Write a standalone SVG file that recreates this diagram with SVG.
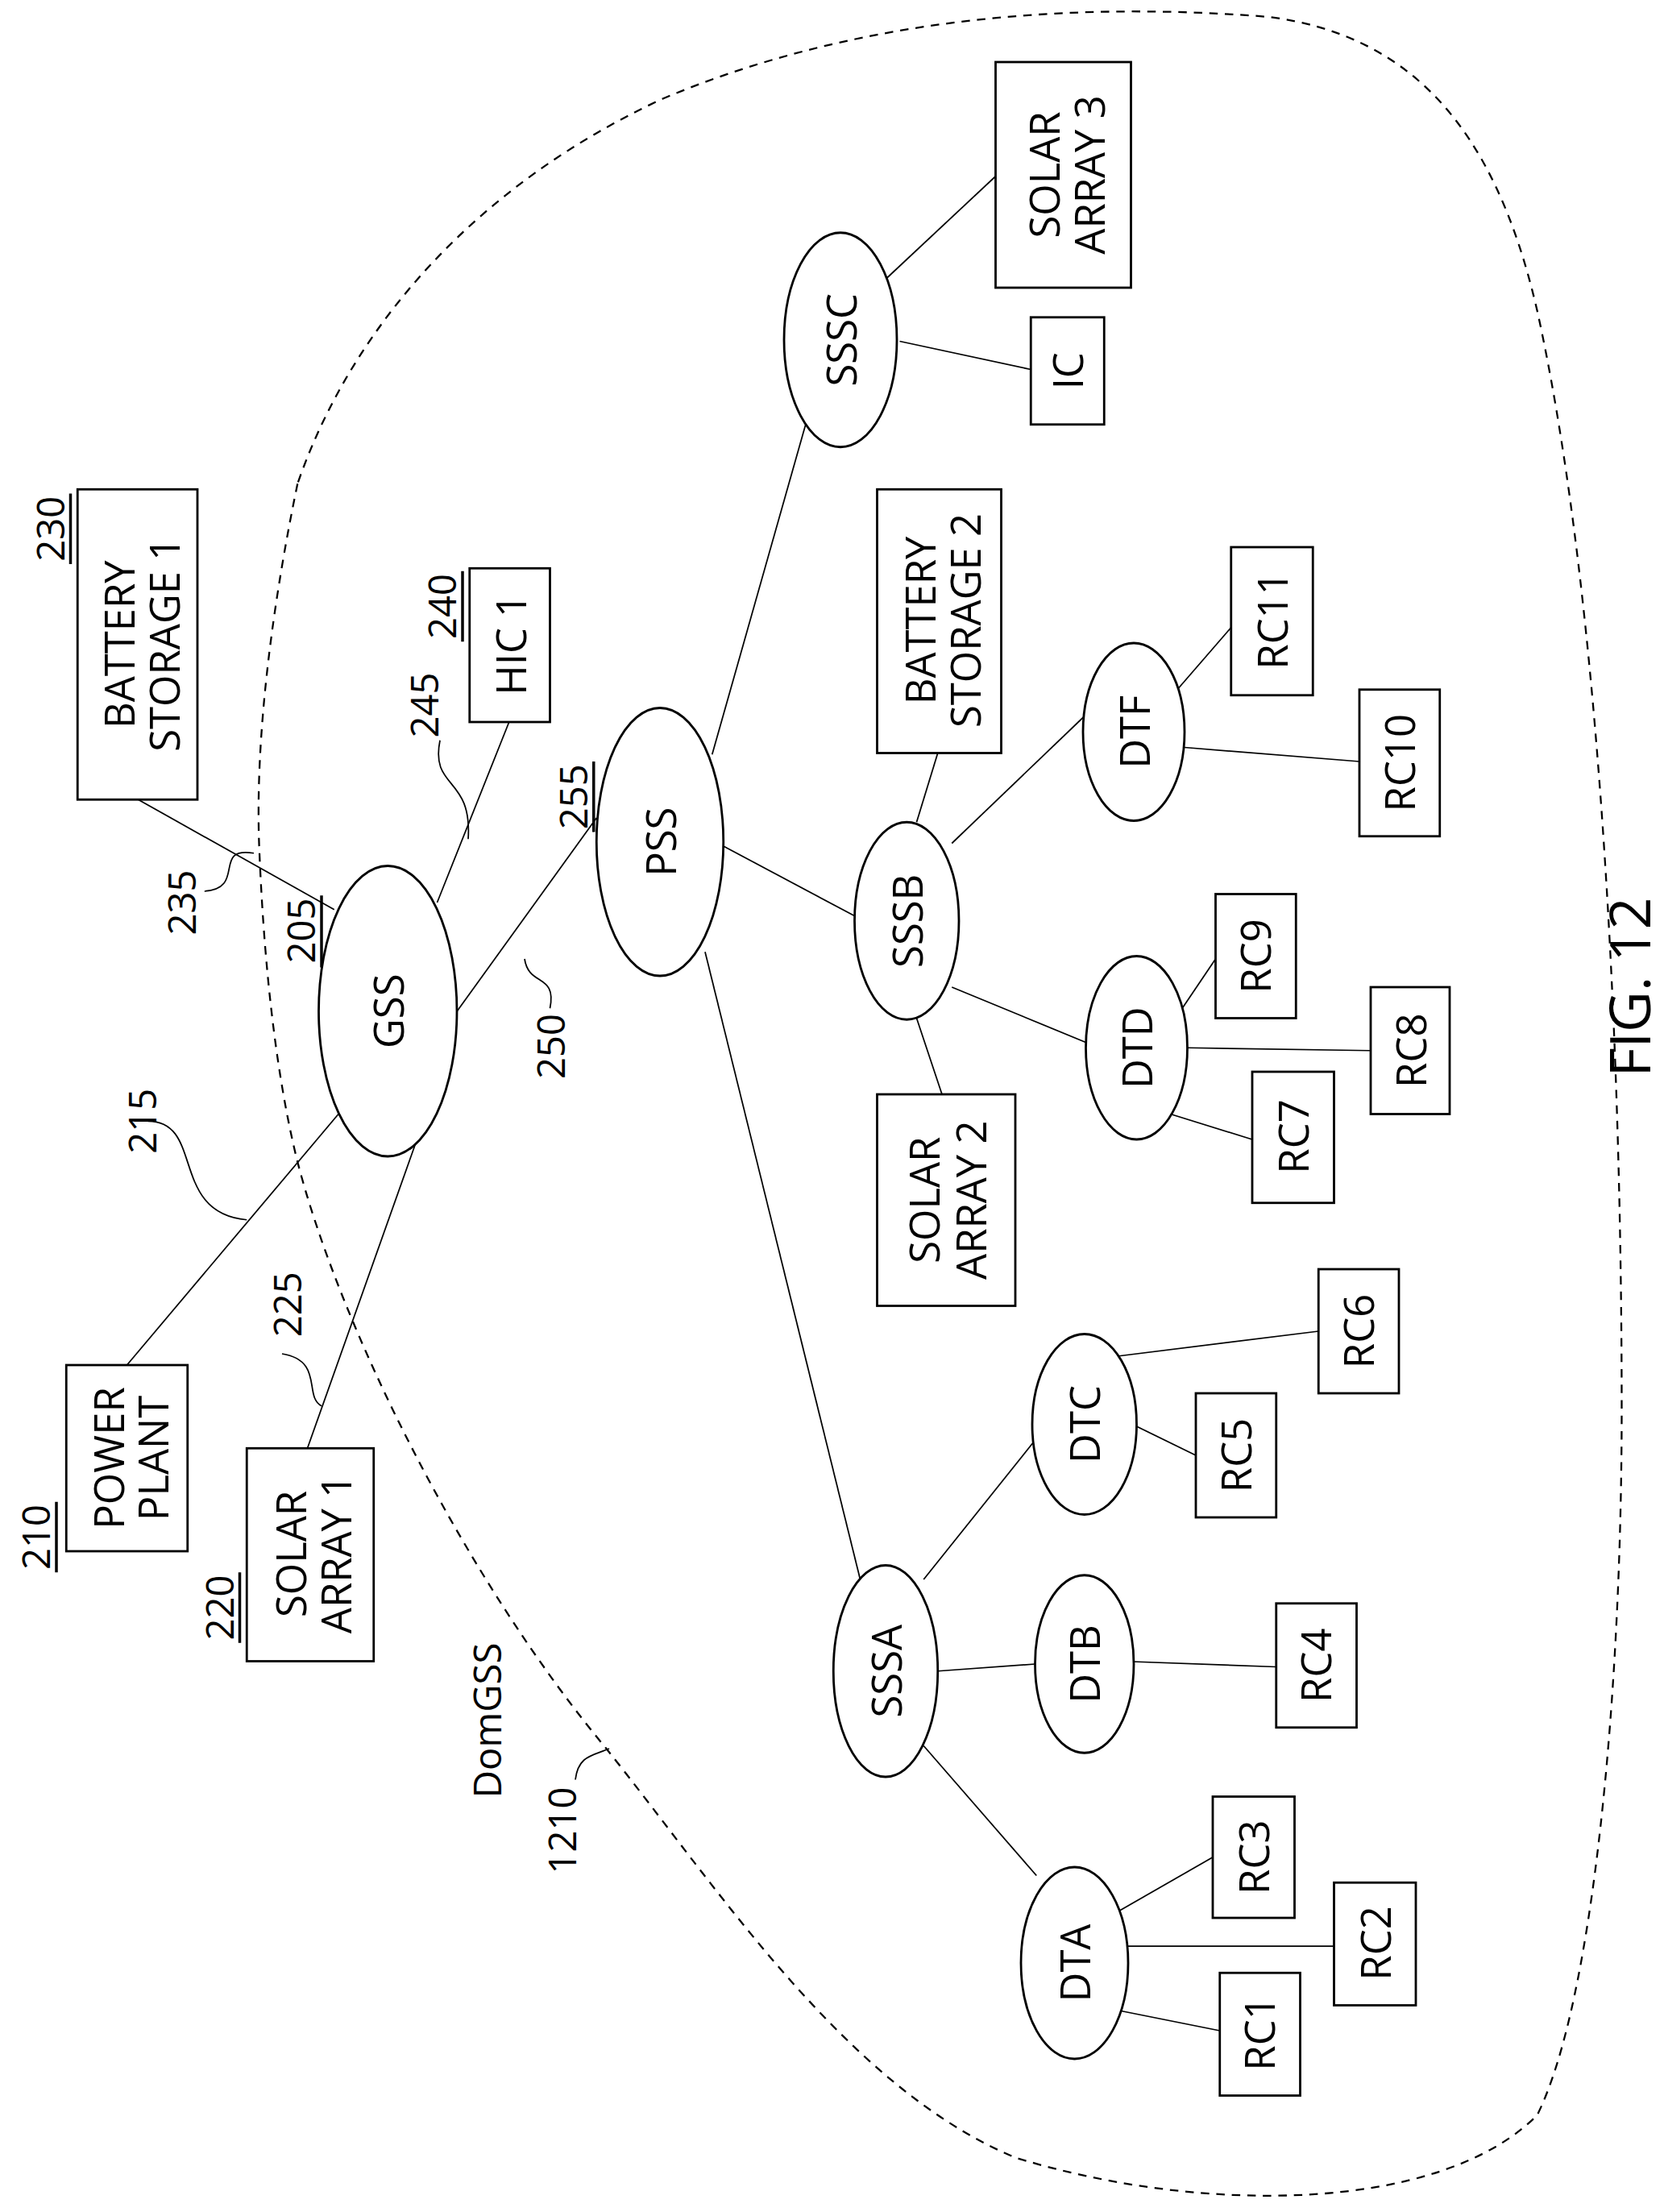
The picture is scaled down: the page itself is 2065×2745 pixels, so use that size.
<svg xmlns="http://www.w3.org/2000/svg" width="2065" height="2745" viewBox="0 0 2065 2745">
<style>
.n{fill:#fff;stroke:#000;stroke-width:1.6}
.c line{stroke:#000;stroke-width:1}
.l{fill:none;stroke:#000;stroke-width:1}
text{font-family:"Open Sans","Liberation Sans",sans-serif;font-size:29px;text-anchor:middle;dominant-baseline:central;fill:#000}
.k{font-size:27px}
.u{stroke:#000;stroke-width:2}
</style>
<rect width="2065" height="2745" fill="#fff"/>
<g transform="scale(1.75)">
<path id="boundary" d="M211,343 C195,420 180,520 184,605 C188,700 198,770 210,820 C240,940 330,1120 430,1240 C510,1340 600,1480 720,1530 C850,1570 1020,1570 1090,1500 C1130,1420 1150,1200 1150,1000 C1150,700 1130,400 1090,220 C1060,90 1000,25 900,12 C750,0 600,15 470,70 C340,130 250,230 211,343 Z" fill="none" stroke="#000" stroke-width="1.3" stroke-dasharray="6,5"/>
<g id="connectors" class="c">
<line x1="98" y1="567" x2="237" y2="645"/>
<line x1="361" y1="512" x2="310" y2="640"/>
<line x1="322" y1="720" x2="423" y2="580"/>
<line x1="240" y1="790" x2="90" y2="968"/>
<line x1="295" y1="810" x2="218" y2="1027"/>
<line x1="505" y1="535" x2="573" y2="295"/>
<line x1="513" y1="600" x2="607" y2="650"/>
<line x1="500" y1="675" x2="610" y2="1120"/>
<line x1="628" y1="198" x2="706" y2="125"/>
<line x1="638" y1="242" x2="731" y2="262"/>
<line x1="650" y1="583" x2="665" y2="534"/>
<line x1="675" y1="598" x2="772" y2="505"/>
<line x1="675" y1="700" x2="772" y2="740"/>
<line x1="650" y1="722" x2="668" y2="776"/>
<line x1="834" y1="490" x2="873" y2="445"/>
<line x1="840" y1="530" x2="964" y2="540"/>
<line x1="835" y1="720" x2="862" y2="680"/>
<line x1="842" y1="743" x2="972" y2="745"/>
<line x1="830" y1="790" x2="888" y2="808"/>
<line x1="655" y1="1120" x2="735" y2="1020"/>
<line x1="665" y1="1185" x2="734" y2="1180"/>
<line x1="655" y1="1238" x2="735" y2="1330"/>
<line x1="790" y1="962" x2="935" y2="944"/>
<line x1="803" y1="1010" x2="848" y2="1032"/>
<line x1="795" y1="1178" x2="905" y2="1182"/>
<line x1="785" y1="1360" x2="860" y2="1317"/>
<line x1="800" y1="1380" x2="946" y2="1380"/>
<line x1="790" y1="1425" x2="865" y2="1440"/>
</g>
<g id="leaders">
<path class="l" d="M145,632 C175,630 150,600 180,605"/>
<text class="k" transform="translate(128,640) rotate(-90)">235</text>
<path class="l" d="M105,795 C145,795 120,860 175,865"/>
<text class="k" transform="translate(100,795) rotate(-90)">215</text>
<path class="l" d="M200,960 C230,965 215,990 228,997"/>
<text class="k" transform="translate(203,925) rotate(-90)">225</text>
<path class="l" d="M312,525 C305,560 335,550 332,595"/>
<text class="k" transform="translate(300,500) rotate(-90)">245</text>
<path class="l" d="M390,715 C395,690 375,700 372,680"/>
<text class="k" transform="translate(390,742) rotate(-90)">250</text>
<path class="l" d="M408,1262 C410,1245 420,1245 432,1240"/>
<text class="k" transform="translate(398,1298) rotate(-90)">1210</text>
<text class="k" transform="translate(345,1220) rotate(-90)">DomGSS</text>
<text transform="translate(1155,700) rotate(-90)" style="font-size:40px">FIG. 12</text>
</g>
<g id="bs1"><rect class="n" x="55" y="347" width="85" height="220"/><text transform="translate(84,457) rotate(-90)">BATTERY</text><text transform="translate(116,457) rotate(-90)">STORAGE 1</text><text class="k" transform="translate(35,375) rotate(-90)">230</text><line class="u" x1="50" y1="350" x2="50" y2="400"/></g>
<g id="hic1"><rect class="n" x="333" y="403" width="57" height="109"/><text transform="translate(362,457) rotate(-90)">HIC 1</text><text class="k" transform="translate(313,430) rotate(-90)">240</text><line class="u" x1="328" y1="405" x2="328" y2="455"/></g>
<g id="gss"><ellipse class="n" cx="275" cy="717" rx="49" ry="103"/><text transform="translate(275,717) rotate(-90)">GSS</text><text class="k" transform="translate(213,660) rotate(-90)">205</text><line class="u" x1="228" y1="635" x2="228" y2="686"/></g>
<g id="pss"><ellipse class="n" cx="468" cy="597" rx="45" ry="95"/><text transform="translate(468,597) rotate(-90)">PSS</text><text class="k" transform="translate(406,565) rotate(-90)">255</text><line class="u" x1="421" y1="540" x2="421" y2="590"/></g>
<g id="pp"><rect class="n" x="47" y="968" width="86" height="132"/><text transform="translate(77,1034) rotate(-90)">POWER</text><text transform="translate(108,1034) rotate(-90)">PLANT</text><text class="k" transform="translate(25,1090) rotate(-90)">210</text><line class="u" x1="40" y1="1065" x2="40" y2="1115"/></g>
<g id="sa1"><rect class="n" x="175" y="1027" width="90" height="151"/><text transform="translate(206,1102) rotate(-90)">SOLAR</text><text transform="translate(238,1102) rotate(-90)">ARRAY 1</text><text class="k" transform="translate(155,1140) rotate(-90)">220</text><line class="u" x1="170" y1="1115" x2="170" y2="1165"/></g>
<g id="sssc"><ellipse class="n" cx="596" cy="241" rx="40" ry="76"/><text transform="translate(596,241) rotate(-90)">SSSC</text></g>
<g id="sa3"><rect class="n" x="706" y="44" width="96" height="160"/><text transform="translate(740,124) rotate(-90)">SOLAR</text><text transform="translate(772,124) rotate(-90)">ARRAY 3</text></g>
<g id="ic"><rect class="n" x="731" y="225" width="52" height="76"/><text transform="translate(757,263) rotate(-90)">IC</text></g>
<g id="bs2"><rect class="n" x="622" y="347" width="88" height="187"/><text transform="translate(652,440) rotate(-90)">BATTERY</text><text transform="translate(684,440) rotate(-90)">STORAGE 2</text></g>
<g id="sssb"><ellipse class="n" cx="643" cy="653" rx="37" ry="70"/><text transform="translate(643,653) rotate(-90)">SSSB</text></g>
<g id="sa2"><rect class="n" x="622" y="776" width="98" height="150"/><text transform="translate(655,851) rotate(-90)">SOLAR</text><text transform="translate(688,851) rotate(-90)">ARRAY 2</text></g>
<g id="dtf"><ellipse class="n" cx="804" cy="519" rx="36" ry="63"/><text transform="translate(804,519) rotate(-90)">DTF</text></g>
<g id="rc11"><rect class="n" x="873" y="388" width="58" height="105"/><text transform="translate(902,440) rotate(-90)">RC11</text></g>
<g id="rc10"><rect class="n" x="964" y="489" width="57" height="104"/><text transform="translate(992,541) rotate(-90)">RC10</text></g>
<g id="dtd"><ellipse class="n" cx="806" cy="743" rx="36" ry="65"/><text transform="translate(806,743) rotate(-90)">DTD</text></g>
<g id="rc9"><rect class="n" x="862" y="634" width="57" height="88"/><text transform="translate(890,678) rotate(-90)">RC9</text></g>
<g id="rc8"><rect class="n" x="972" y="700" width="56" height="90"/><text transform="translate(1000,745) rotate(-90)">RC8</text></g>
<g id="rc7"><rect class="n" x="888" y="760" width="58" height="93"/><text transform="translate(917,806) rotate(-90)">RC7</text></g>
<g id="dtc"><ellipse class="n" cx="769" cy="1010" rx="37" ry="64"/><text transform="translate(769,1010) rotate(-90)">DTC</text></g>
<g id="rc6"><rect class="n" x="935" y="900" width="57" height="88"/><text transform="translate(963,944) rotate(-90)">RC6</text></g>
<g id="rc5"><rect class="n" x="848" y="988" width="57" height="88"/><text transform="translate(876,1032) rotate(-90)">RC5</text></g>
<g id="dtb"><ellipse class="n" cx="769" cy="1180" rx="35" ry="63"/><text transform="translate(769,1180) rotate(-90)">DTB</text></g>
<g id="rc4"><rect class="n" x="905" y="1137" width="57" height="88"/><text transform="translate(933,1181) rotate(-90)">RC4</text></g>
<g id="sssa"><ellipse class="n" cx="628" cy="1185" rx="37" ry="75"/><text transform="translate(628,1185) rotate(-90)">SSSA</text></g>
<g id="dta"><ellipse class="n" cx="762" cy="1392" rx="38" ry="68"/><text transform="translate(762,1392) rotate(-90)">DTA</text></g>
<g id="rc3"><rect class="n" x="860" y="1274" width="58" height="86"/><text transform="translate(889,1317) rotate(-90)">RC3</text></g>
<g id="rc2"><rect class="n" x="946" y="1335" width="58" height="87"/><text transform="translate(975,1378) rotate(-90)">RC2</text></g>
<g id="rc1"><rect class="n" x="865" y="1399" width="57" height="87"/><text transform="translate(893,1442) rotate(-90)">RC1</text></g>
</g>
</svg>
